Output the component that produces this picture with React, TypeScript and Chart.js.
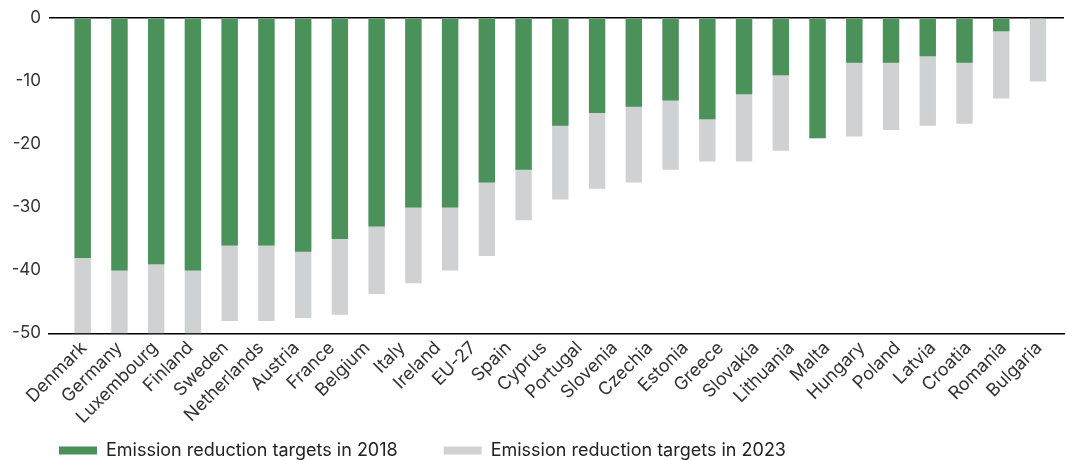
import React, { useEffect, useRef } from "react";
import { Chart, registerables } from "chart.js";

Chart.register(...registerables);

// Country labels shown along the horizontal axis
const countryLabels = [
  "Denmark", "Germany", "Luxembourg", "Finland", "Sweden", "Netherlands",
  "Austria", "France", "Belgium", "Italy", "Ireland", "EU-27", "Spain",
  "Cyprus", "Portugal", "Slovenia", "Czechia", "Estonia", "Greece",
  "Slovakia", "Lithuania", "Malta", "Hungary", "Poland", "Latvia",
  "Croatia", "Romania", "Bulgaria",
];

// Emission reduction targets (% vs 2005), one value per bar
const targets2018 = [
  -38, -40, -39, -40, -36, -36, -37, -35, -33, -30, -30, -26, -24, -17,
  -15, -14, -13, -16, -12, -9, -19, -7, -7, -6, -7, -2, 0,
];
const targets2023 = [
  -50, -50, -50, -50, -48, -48, -47.5, -47, -43.7, -42, -40, -37.7, -32,
  -28.7, -27, -26, -24, -22.7, -22.7, -21, -19, -18.7, -17.7, -17, -16.7,
  -12.7, -10,
];

const yTicks = [0, -10, -20, -30, -40, -50];

const seriesNames = [
  "Emission reduction targets in 2018",
  "Emission reduction targets in 2023",
];

const GREEN = "#4a915a";
const GREY = "#d0d1d3";
const FONT = "Inter, 'Open Sans', sans-serif";
const LEGEND_FONT_SIZE = 18;
const LEGEND_GAP = 46;
const LEGEND_ROW_Y = 450.5;

// Lets the legend row sit in the free space beside the slanted country names
// instead of below them.
const legendRow = {
  id: "legendRow",
  afterLayout(chart: any) {
    const lg = chart.legend;
    if (!lg) return;
    lg.top = LEGEND_ROW_Y - LEGEND_GAP - LEGEND_FONT_SIZE / 2;
    lg.bottom = chart.height;
    lg.height = lg.bottom - lg.top;
  },
};

export default function App() {
  const canvasRef = useRef<HTMLCanvasElement | null>(null);

  useEffect(() => {
    const canvas = canvasRef.current;
    if (!canvas) return;

    const toPoints = (vals: number[]) => vals.map((v, i) => ({ x: i, y: v }));

    const chart = new Chart(canvas, {
      type: "bar",
      data: {
        datasets: [
          {
            label: seriesNames[0],
            data: toPoints(targets2018),
            backgroundColor: GREEN,
            borderWidth: 0,
            xAxisID: "xb",
            grouped: false,
            barThickness: 15.7,
          },
          {
            label: seriesNames[1],
            data: toPoints(targets2023),
            backgroundColor: GREY,
            borderWidth: 0,
            xAxisID: "xb",
            grouped: false,
            barThickness: 15.7,
          },
        ],
      },
      plugins: [legendRow],
      options: {
        animation: false,
        responsive: false,
        maintainAspectRatio: false,
        layout: { padding: { left: 13, right: 2, top: 16, bottom: 0 } },
        plugins: {
          tooltip: { enabled: false },
          legend: {
            position: "bottom",
            align: "start",
            maxHeight: 28,
            labels: {
              boxWidth: 38,
              boxHeight: 8,
              padding: LEGEND_GAP,
              color: "#222",
              font: { family: FONT, size: LEGEND_FONT_SIZE },
            },
          },
        },
        scales: {
          xb: {
            type: "linear",
            position: "bottom",
            display: false,
            min: -0.917,
            max: 26.708,
            offset: false,
          },
          xl: {
            type: "linear",
            position: "bottom",
            min: -0.9895,
            max: 27.707,
            offset: false,
            grid: { display: false, drawTicks: false },
            border: { display: true, color: "#000", width: 1.5 },
            afterBuildTicks: (axis: any) => {
              axis.ticks = countryLabels.map((_, i) => ({ value: i }));
            },
            afterFit: (axis: any) => {
              axis.height = 98.7;
            },
            ticks: {
              autoSkip: false,
              minRotation: 45,
              maxRotation: 45,
              padding: 4,
              color: "#333",
              font: { family: FONT, size: 18 },
              callback: (v: any) => countryLabels[Math.round(Number(v))] ?? "",
            },
          },
          y: {
            type: "linear",
            min: -50,
            max: 0,
            afterBuildTicks: (axis: any) => {
              axis.ticks = yTicks.map((v) => ({ value: v }));
            },
            afterFit: (axis: any) => {
              axis.width = 36;
            },
            border: { display: false },
            grid: {
              drawTicks: false,
              lineWidth: 1.5,
              color: (ctx: any) =>
                ctx.tick && ctx.tick.value === 0 ? "#000" : "rgba(0,0,0,0)",
            },
            ticks: {
              padding: 8,
              color: "#333",
              font: { family: FONT, size: 17 },
            },
          },
        },
      },
    });

    return () => chart.destroy();
  }, []);

  return (
    <div
      style={{
        position: "fixed",
        left: 0,
        top: 0,
        width: 1066,
        height: 460,
        overflow: "hidden",
        background: "#fff",
      }}
    >
      <canvas ref={canvasRef} width={1066} height={460} style={{ display: "block" }} />
    </div>
  );
}
